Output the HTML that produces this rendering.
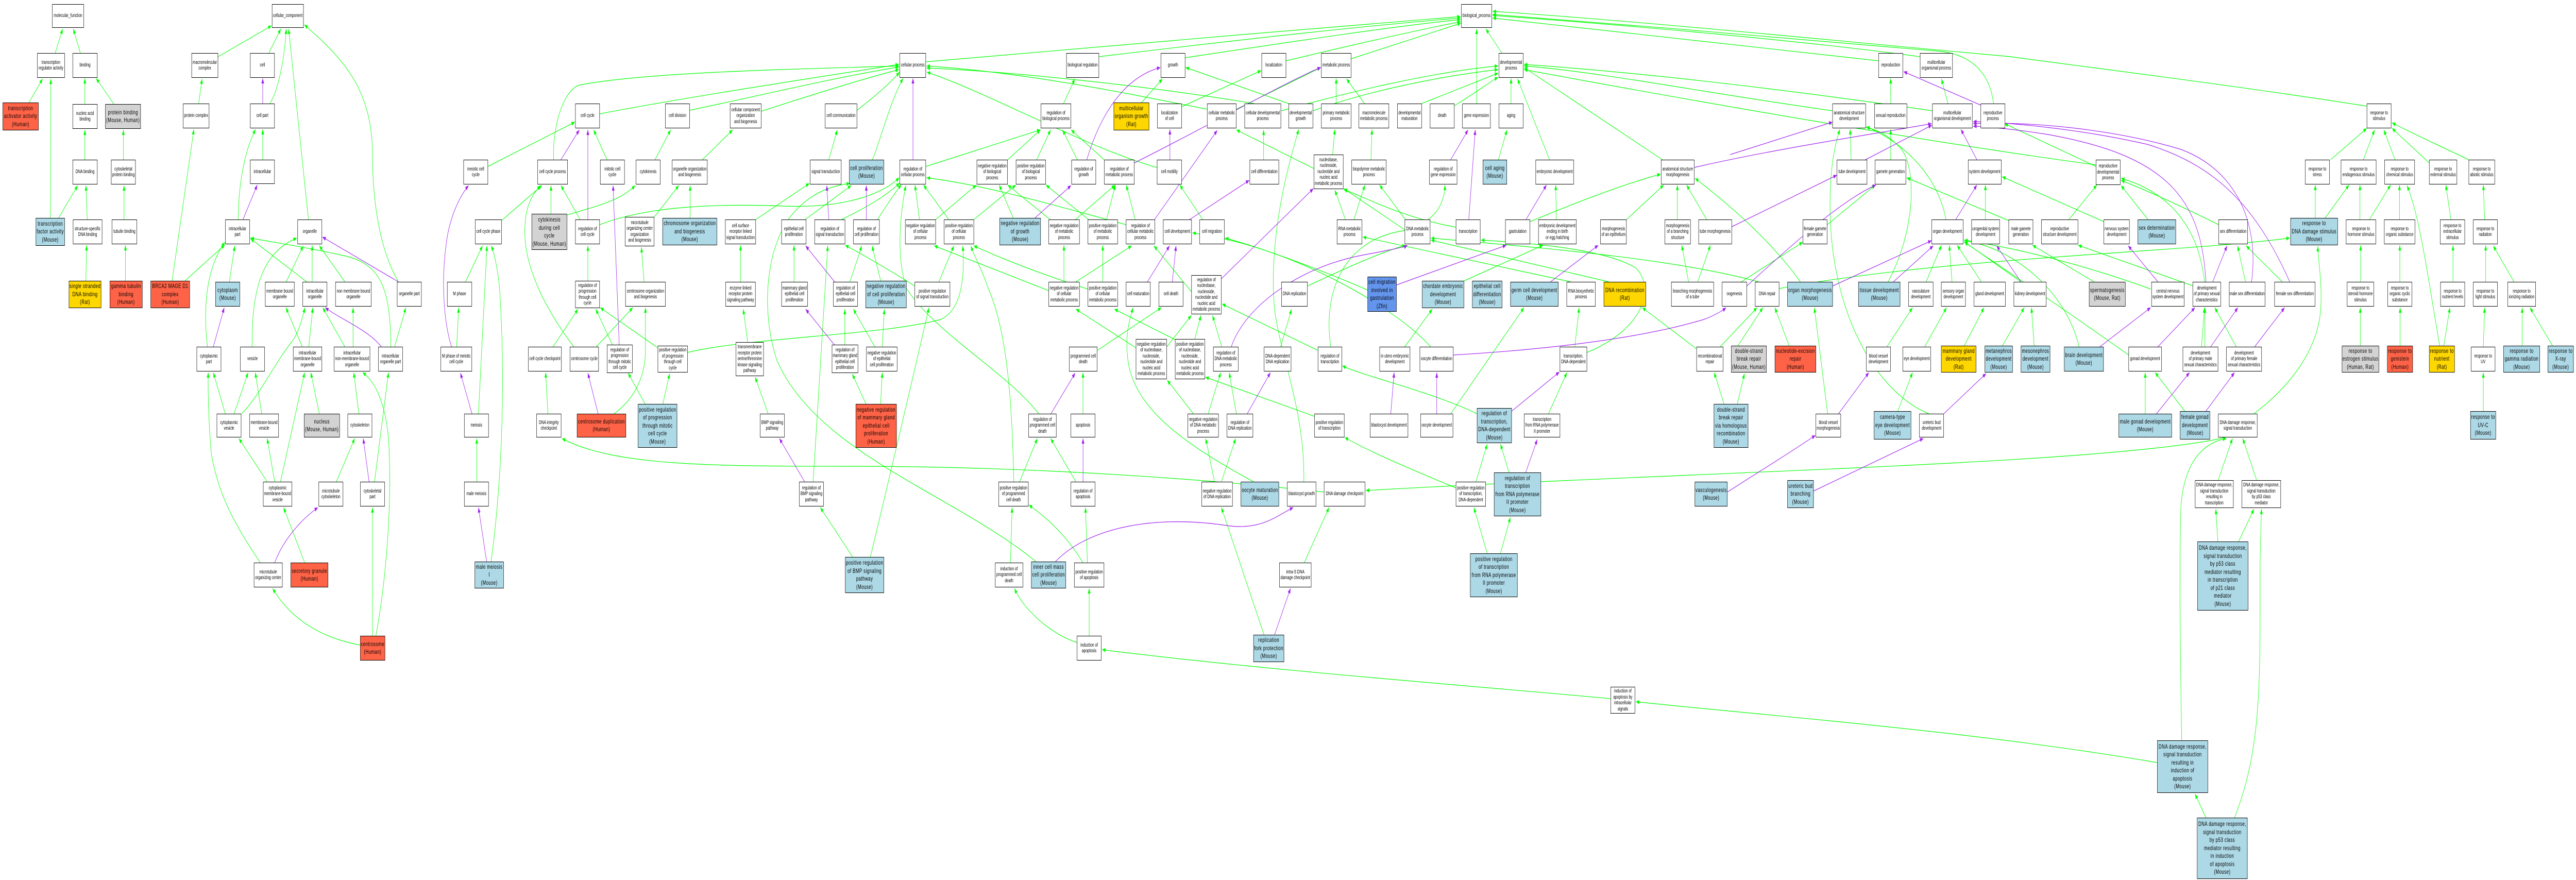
<!DOCTYPE html>
<html><head><meta charset="utf-8"><style>
html,body{margin:0;padding:0;background:#fff;overflow:hidden;width:100%;height:100%}
#root{position:fixed;left:0;top:0;width:100vw;height:100vh;display:block}
#c{position:relative;width:7559px;height:1708px;margin:0;padding:0}
.n{position:absolute;box-sizing:border-box;border:1px solid #000;background:#fff;display:flex;align-items:center;justify-content:center;text-align:center;font-family:"Liberation Sans",Arial,sans-serif;font-size:10px;line-height:11.5px;white-space:nowrap;color:#000}
.b,.r,.y,.g,.f{font-size:12px;line-height:15.5px;letter-spacing:0.65px}
.b{background:#add8e6}.r{background:#ff6347}.y{background:#ffd700}.g{background:#d3d3d3}.f{background:#6495ed}
</style></head><body>
<svg id="root" xmlns="http://www.w3.org/2000/svg" viewBox="0 0 7559 1708" preserveAspectRatio="none">
<rect x="0" y="0" width="7559" height="1708" fill="#fff"/>
<defs>
<marker id="mg" markerUnits="userSpaceOnUse" markerWidth="11" markerHeight="8" refX="10" refY="4" orient="auto" viewBox="0 0 11 8"><path d="M0,0L10,4L0,8z" fill="#00ff00"/></marker>
<marker id="mp" markerUnits="userSpaceOnUse" markerWidth="11" markerHeight="8" refX="10" refY="4" orient="auto" viewBox="0 0 11 8"><path d="M0,0L10,4L0,8z" fill="#a020f0"/></marker>
</defs>
<g fill="none" stroke="#00ff00" stroke-width="1.2" marker-end="url(#mg)">
<path d="M162,103L184,56"/><path d="M236,103L215,56"/><path d="M85,199L125,153"/><path d="M148,423L149,153"/>
<path d="M249,202L249,152"/><path d="M334,202L282,152"/><path d="M249,310L249,252"/><path d="M362,310L362,252"/>
<path d="M172,423L228,360"/><path d="M256,426L252,360"/><path d="M364,426L364,360"/><path d="M252,545L254,476"/><path d="M368,545L368,476"/>
<path d="M640,110L797,50"/><path d="M789,103L824,56"/><path d="M792,201C820,170 835,110 840,56"/><path d="M905,426L847,56"/>
<path d="M1169,547C1110,480 1093,380 1093,300C1093,170 1000,110 893,48"/>
<path d="M583,201L593,153"/><path d="M771,310L771,251"/><path d="M699,426C700,350 720,290 750,251"/>
<path d="M505,545L569,251"/><path d="M543,545L660,475"/><path d="M673,547L689,477"/><path d="M840,547L890,477"/>
<path d="M916,547L916,476"/><path d="M900,547L735,463"/><path d="M1012,547L937,477"/>
<path d="M609,673C595,600 605,520 660,470"/><path d="M740,673C738,560 770,490 871,462"/>
<path d="M887,673L839,597"/><path d="M906,673L918,597"/><path d="M1036,673L1036,597"/><path d="M1012,673L947,597"/><path d="M1158,673L1191,597"/>
<path d="M1147,673C1145,560 1120,510 1000,495C900,480 800,470 735,462"/>
<path d="M661,803L626,723"/><path d="M687,803L728,723"/><path d="M709,803C760,770 800,710 860,660C880,640 890,610 895,597"/>
<path d="M768,803L749,723"/><path d="M937,803L912,723"/><path d="M1053,803L1038,723"/>
<path d="M784,935L701,851"/><path d="M806,935L784,851"/><path d="M823,935L894,723"/><path d="M987,935L1041,851"/><path d="M1099,935L1140,723"/>
<path d="M764,1092C690,1020 640,960 620,880C612,820 610,760 611,723"/><path d="M894,1092L832,985"/>
<path d="M1057,1252C960,1240 860,1210 800,1142"/><path d="M1093,1234L1093,985"/>
<path d="M1103,1234C1140,1100 1150,950 1140,850C1130,780 1100,740 1064,723"/>
<path d="M1432,323L1687,237"/><path d="M1625,310C1620,270 1640,180 1700,165C1900,140 2300,135 2638,128"/>
<path d="M1781,310L1742,252"/><path d="M1922,310L1968,252"/><path d="M2061,310L2150,252"/><path d="M2432,310L2457,252"/>
<path d="M2560,310C2580,280 2610,200 2650,152"/><path d="M1760,221C2000,190 2400,150 2638,125"/>
<path d="M2024,214C2200,190 2450,150 2638,130"/><path d="M2234,216C2400,180 2550,150 2638,135"/><path d="M2515,214C2560,190 2600,170 2640,140"/>
<path d="M1472,428L1590,360"/><path d="M1617,415L1617,360"/><path d="M1665,417C1750,400 1820,390 1864,360"/><path d="M1702,426L1646,360"/>
<path d="M1760,436C1900,400 2100,395 2300,400C2500,405 2600,370 2639,345"/>
<path d="M1914,426L1992,360"/><path d="M2025,423L2025,360"/><path d="M2218,426L2375,356"/><path d="M2363,426L2498,360"/>
<path d="M2470,426C2550,400 2600,380 2640,355"/><path d="M2575,426C2600,400 2620,380 2645,358"/>
<path d="M1366,547L1416,477"/><path d="M1725,545L1725,477"/><path d="M1890,547L1882,480"/><path d="M2173,547L2173,476"/>
<path d="M2330,547L2330,476"/><path d="M2494,547L2529,477"/><path d="M2585,547L2559,477"/>
<path d="M1340,673L1346,597"/><path d="M1623,673L1696,600"/><path d="M1684,673C1600,600 1540,520 1540,450C1540,400 1560,380 1586,360"/>
<path d="M1750,673L1857,597"/><path d="M1797,669L1748,600"/><path d="M1930,675L1761,597"/>
<path d="M2018,684C2200,655 2600,650 2760,620C2830,600 2830,520 2825,477"/>
<path d="M2194,664L2181,600"/><path d="M2479,669L2479,600"/><path d="M2567,673L2504,600"/><path d="M2589,673L2595,600"/>
<path d="M1404,803L1429,477"/><path d="M1608,803L1601,723"/><path d="M1802,803C1850,780 1894,740 1894,680L1894,597"/>
<path d="M1893,784L1843,724"/><path d="M1945,784L1965,725"/><path d="M2254,803L2216,732"/><path d="M2541,784L2501,726"/><path d="M2584,784L2589,723"/>
<path d="M1399,935L1399,851"/><path d="M2386,935L2429,477"/>
<path d="M1441,1090C1480,900 1480,700 1466,560C1460,520 1450,490 1441,477"/>
<path d="M2502,1081L2407,985"/><path d="M2554,1081C2620,900 2690,700 2726,597"/>
<path d="M3040,1090C2800,960 2400,880 2280,700C2230,600 2250,480 2320,420C2380,370 2450,360 2494,356"/>
<path d="M3885,955C3400,920 2900,905 2500,905C2100,905 1800,905 1649,851"/>
<path d="M2717,120C3000,100 3800,60 4286,32"/><path d="M3225,110C3600,80 4000,50 4286,35"/><path d="M3478,112C3800,80 4100,50 4286,38"/>
<path d="M3774,118C3950,90 4150,60 4286,42"/><path d="M3965,114L4287,45"/>
<path d="M3121,201L3154,153"/><path d="M3350,199L3411,153"/><path d="M3468,207L3701,137"/>
<path d="M3542,212C3300,180 3000,140 2719,128"/><path d="M3628,212L3876,131"/><path d="M3781,201L3479,131"/>
<path d="M3760,215C3950,180 4200,140 4396,128"/><path d="M3853,215C4000,180 4200,150 4396,135"/>
<path d="M3680,201C3400,170 3000,140 2719,132"/>
<path d="M2717,323L3053,252"/><path d="M2957,310L3053,252"/><path d="M3042,310L3083,252"/><path d="M3161,310L3118,252"/>
<path d="M3240,310L3143,252"/><path d="M3708,310L3708,252"/><path d="M3855,327L3628,252"/>
<path d="M3395,325C3200,290 2900,180 2720,140"/>
<path d="M2698,426L2685,359"/><path d="M2746,426L2865,359"/><path d="M2784,426L2710,359"/><path d="M2858,426L2981,359"/>
<path d="M2973,423L2932,359"/><path d="M3156,426L3272,359"/><path d="M3081,426L2957,359"/><path d="M3247,426L3273,359"/>
<path d="M3194,426L3069,359"/><path d="M3331,426L3305,359"/><path d="M3304,436C3100,400 2900,360 2719,345"/><path d="M3529,426L3462,359"/>
<path d="M3122,547L3122,476"/><path d="M3077,564L2741,477"/><path d="M3157,547L3321,477"/><path d="M3236,547L3236,476"/>
<path d="M3192,561C3000,520 2900,490 2857,477"/><path d="M3496,566L3386,477"/><path d="M2755,547L2799,477"/>
<path d="M2684,555C2600,520 2520,490 2480,476"/>
<path d="M3220,680L3408,597"/><path d="M3333,675L3157,600"/><path d="M3424,673L3496,612"/><path d="M3448,659L3270,600"/>
<path d="M3506,658L3524,612"/><path d="M3585,673L3558,612"/><path d="M3758,673L3790,600"/>
<path d="M3867,680L3586,590"/><path d="M3905,673C3880,560 3950,470 4100,450C4200,440 4240,400 4240,359"/>
<path d="M3837,555C3950,520 4050,490 4125,476"/>
<path d="M3048,803C2950,720 2750,650 2660,560C2630,500 2640,420 2658,360"/>
<path d="M3178,803L3178,723"/><path d="M3502,803L3425,738"/><path d="M3545,803L3582,723"/><path d="M3628,803L3607,723"/><path d="M3857,808L3537,732"/>
<path d="M2992,935L3044,851"/><path d="M2975,935C2970,800 2960,650 2900,560C2880,520 2860,500 2849,477"/>
<path d="M3157,935L3083,851"/><path d="M3564,935L3538,851"/><path d="M3584,935L3626,851"/>
<path d="M3678,935C3500,870 3330,800 3310,700C3300,650 3315,620 3325,597"/>
<path d="M3826,935C3830,800 3760,700 3740,600C3720,450 3790,300 3811,251"/>
<path d="M2965,1092L2970,985"/><path d="M3191,1092L3185,985"/><path d="M3178,1092C3120,1030 3060,1000 3019,980"/>
<path d="M3827,1092L3900,985"/><path d="M3160,1247C3080,1230 3000,1180 2977,1142"/><path d="M3196,1234L3196,1142"/>
<path d="M4726,1356C4300,1330 3700,1300 3234,1261"/><path d="M3709,1232L3584,985"/>
<path d="M4407,103L4360,56"/><path d="M4333,201L4333,56"/><path d="M3921,201L3921,152"/><path d="M4004,201L3951,153"/>
<path d="M4172,201L4396,142"/><path d="M4268,205C4330,180 4370,160 4396,150"/><path d="M4434,201L4434,152"/>
<path d="M3910,303L3917,251"/><path d="M4023,310L4026,251"/><path d="M4397,310L4422,252"/><path d="M4547,310L4453,153"/><path d="M4878,310L4472,131"/>
<path d="M3948,426L3917,369"/><path d="M3973,426L4005,359"/><path d="M4124,426L4048,359"/><path d="M4122,446L3943,366"/>
<path d="M4272,441C4100,420 4000,380 3943,368"/><path d="M4490,430C4600,400 4750,360 4873,338"/>
<path d="M4567,426L4565,359"/><path d="M4773,426L4882,359"/><path d="M4922,426L4922,359"/><path d="M5008,426L4949,359"/>
<path d="M4013,563C3900,530 3700,480 3595,462"/><path d="M4290,547L4528,476"/><path d="M4609,547L3999,460"/><path d="M4721,547L4199,466"/>
<path d="M4955,547L4935,476"/><path d="M4982,547L5019,476"/><path d="M5110,547L5290,470"/><path d="M5160,547C4900,500 4500,480 4199,462"/>
<path d="M4122,673L4203,600"/><path d="M4621,673L4634,597"/><path d="M4657,684C4820,640 4860,560 4800,520C4700,480 4450,470 4346,466"/>
<path d="M5048,673L5156,597"/><path d="M4978,677L4819,597"/><path d="M5098,673L5173,597"/>
<path d="M4198,673C4100,600 3800,480 3499,452"/>
<path d="M4257,803L4472,597"/><path d="M4334,803C4200,760 4000,730 3939,710"/><path d="M4544,803L4598,723"/>
<path d="M5098,784L5119,725"/><path d="M5059,784L5030,723"/>
<path d="M4331,935L4364,862"/><path d="M4272,947C4100,900 4000,870 3946,849"/><path d="M4428,917L4403,862"/>
<path d="M4364,1074L4325,985"/><path d="M4403,1074L4432,1004"/>
<path d="M5512,118C5100,90 4700,60 4380,35"/><path d="M5634,110C5300,80 4800,50 4380,30"/>
<path d="M5377,215C5000,180 4700,140 4472,128"/><path d="M5548,201L5548,152"/><path d="M5716,201L5697,153"/>
<path d="M5670,215C5200,170 4800,140 4472,125"/><path d="M5850,201C5840,150 5800,110 5700,100C5400,80 4800,50 4380,28"/>
<path d="M5432,310L5429,251"/><path d="M5548,310L5548,251"/><path d="M6150,323L5882,240"/><path d="M6150,320C5700,280 5000,200 4472,135"/>
<path d="M5362,436L5503,359"/><path d="M5710,426C5690,350 5600,280 5476,246"/><path d="M5826,426L5826,359"/>
<path d="M5894,428L5595,345"/><path d="M6071,426L6153,359"/><path d="M6173,430L5875,343"/><path d="M6303,426L6224,360"/>
<path d="M5283,547C5200,470 5080,400 4974,346"/><path d="M5540,547C5620,450 5625,330 5580,290C5540,260 5500,250 5477,248"/>
<path d="M5652,547L5697,476"/><path d="M5728,547L5720,476"/><path d="M5814,547L5743,476"/><path d="M5930,547L5764,469"/>
<path d="M6145,547L5964,476"/><path d="M6311,561C6100,510 5900,480 5764,466"/><path d="M6440,556L6098,476"/>
<path d="M6469,547C6450,430 6350,370 6224,346"/>
<path d="M5250,671L5208,597"/><path d="M5537,673L5612,597"/><path d="M5648,673L5712,597"/><path d="M5764,671L5822,597"/>
<path d="M5876,671L5940,597"/><path d="M5969,671L5961,597"/><path d="M6101,673C6060,560 5900,480 5764,467"/>
<path d="M6246,689C6100,620 5900,530 5764,470"/><path d="M6460,673L6469,597"/>
<path d="M5363,803L5324,597"/><path d="M5569,798L5612,723"/><path d="M5660,803C5500,760 5370,600 5370,400C5370,320 5385,280 5399,251"/>
<path d="M6295,803L6295,723"/><path d="M6411,798L6324,723"/>
<path d="M6402,1437C6396,1200 6396,1050 6400,980C6410,900 6460,860 6533,851"/>
<path d="M6329,1480C5800,1420 5200,1390 4800,1362"/>
<path d="M6530,849C6200,900 5000,915 4008,952"/><path d="M5221,560C5700,500 6400,490 6719,462"/>
<path d="M6509,932L6551,851"/><path d="M6622,932L6581,851"/><path d="M6508,1051L6502,988"/><path d="M6569,1051L6614,988"/>
<path d="M6473,1587L6441,1541"/><path d="M6557,1587C6620,1480 6632,1380 6632,1200L6632,1090L6636,988"/>
<path d="M6614,803C6700,760 6800,690 6810,600C6815,540 6800,500 6802,478"/>
<path d="M6945,206C6500,160 6000,120 5900,110C5400,80 4800,40 4380,22"/>
<path d="M6839,310L6945,249"/><path d="M6935,310L6968,252"/><path d="M7028,310L6995,252"/><path d="M7128,316L7019,249"/>
<path d="M7244,310C7150,280 7050,250 7019,238"/><path d="M6510,436C6400,400 6300,370 6224,350"/>
<path d="M6794,423L6794,359"/><path d="M6823,423L6893,359"/><path d="M6925,426L6925,359"/><path d="M6953,426L7015,359"/>
<path d="M7041,426L7041,359"/><path d="M7192,426L7177,359"/><path d="M7291,426L7287,359"/>
<path d="M6589,547L6566,477"/><path d="M6697,547L6591,477"/><path d="M6927,547L6927,476"/><path d="M7042,547L7042,476"/>
<path d="M7198,547L7198,476"/><path d="M7294,547L7294,476"/><path d="M7377,547L7316,477"/>
<path d="M6470,673L6470,597"/><path d="M6562,673L6499,597"/><path d="M6926,671L6926,597"/><path d="M7043,671L7043,597"/>
<path d="M7171,671L7189,597"/><path d="M7159,671C7120,520 7100,420 7063,360"/><path d="M7287,673L7291,597"/>
<path d="M7401,671L7401,597"/><path d="M7490,671L7424,597"/><path d="M7287,798L7287,723"/>
</g>
<g fill="none" stroke="#a020f0" stroke-width="1.2" marker-end="url(#mp)">
<path d="M771,201L771,152"/><path d="M713,426L755,359"/><path d="M1169,547L946,460"/><path d="M626,673L658,597"/>
<path d="M1119,673C1080,640 1000,620 954,597"/><path d="M1083,935L1066,851"/><path d="M806,1092C830,1050 880,1010 933,985"/>
<path d="M1646,310L1700,252"/><path d="M1725,426L1725,252"/><path d="M1325,673C1300,620 1295,540 1310,470C1320,420 1350,380 1375,360"/>
<path d="M2432,426L2426,360"/><path d="M2542,426L2542,360"/><path d="M2449,547L2364,477"/><path d="M1817,669L1799,360"/>
<path d="M2448,669L2364,600"/><path d="M1385,803L1351,724"/><path d="M1755,803L1725,724"/><path d="M2361,935L2287,851"/><path d="M1428,1090L1404,985"/>
<path d="M2679,310L2679,152"/><path d="M3189,310C3230,220 3300,150 3405,131"/><path d="M3329,316C3500,260 3800,150 3876,131"/>
<path d="M3433,310L3433,251"/><path d="M3037,423L3143,360"/><path d="M3388,426L3572,253"/><path d="M3491,426L3666,350"/>
<path d="M3367,547L3432,477"/><path d="M3440,547L3451,477"/><path d="M3584,541L3854,366"/>
<path d="M3613,673C3650,600 3800,520 4000,495C4080,485 4120,480 4130,476"/>
<path d="M3084,803L3155,724"/><path d="M3178,935L3178,851"/><path d="M3660,803L3728,723"/><path d="M3740,1232L3787,1142"/>
<path d="M3097,1090C3200,1020 3400,1000 3600,1020C3700,1030 3750,1000 3795,985"/>
<path d="M4257,310L4308,252"/><path d="M4310,426L4329,252"/><path d="M4478,426L4538,359"/><path d="M4098,553L4420,476"/>
<path d="M4081,803L4091,723"/><path d="M4216,803L4216,723"/><path d="M4436,798L4576,722"/><path d="M4477,917L4511,853"/>
<path d="M4265,689C4500,680 4800,660 5000,620C5040,610 5060,600 5065,597"/><path d="M4550,547L4690,476"/>
<path d="M5069,955C5150,920 5250,880 5327,845"/>
<path d="M5812,204L5586,139"/><path d="M5474,310L5669,243"/><path d="M5801,310L5754,251"/><path d="M5739,426L5801,359"/>
<path d="M5378,555L5668,467"/><path d="M5556,547L5673,477"/><path d="M5930,547L5859,477"/><path d="M6332,547L6245,477"/>
<path d="M6162,673L6311,597"/><path d="M6332,673L6441,597"/><path d="M5395,803L5484,723"/><path d="M5704,803L5828,725"/>
<path d="M6328,803L6425,723"/><path d="M6473,798L6557,723"/><path d="M5322,953L5644,851"/>
<path d="M6473,547C6460,380 6350,300 6000,260C5900,250 5820,245 5790,245"/>
<path d="M6607,547C6630,430 6560,330 6400,290C6200,250 5950,235 5790,240"/>
<path d="M6719,547C6620,400 6500,320 6300,280C6100,250 5900,238 5790,236"/>
<path d="M5082,440L5390,340"/><path d="M5126,555C5250,480 5400,390 5505,359"/>
<path d="M4972,325C5200,290 5500,260 5668,240"/><path d="M5077,300L5377,237"/>
<path d="M6493,547L6535,477"/><path d="M6487,673L6567,597"/><path d="M6616,673L6704,597"/>
</g>
<foreignObject x="0" y="0" width="7559" height="1708">
<div xmlns="http://www.w3.org/1999/xhtml" id="c">
<div class="n" style="left:153px;top:8px;width:93px;height:46px">molecular_function</div>
<div class="n" style="left:109px;top:103px;width:81px;height:48px">transcription<br/>regulator activity</div>
<div class="n" style="left:213px;top:103px;width:73px;height:48px">binding</div>
<div class="n r" style="left:8px;top:199px;width:105px;height:54px">transcription<br/>activator activity<br/>(Human)</div>
<div class="n" style="left:213px;top:202px;width:73px;height:48px">nucleic acid<br/>binding</div>
<div class="n g" style="left:309px;top:202px;width:104px;height:48px">protein binding<br/>(Mouse, Human)</div>
<div class="n" style="left:213px;top:310px;width:73px;height:48px">DNA binding</div>
<div class="n" style="left:326px;top:310px;width:72px;height:48px">cytoskeletal<br/>protein binding</div>
<div class="n b" style="left:105px;top:423px;width:85px;height:54px">transcription<br/>factor activity<br/>(Mouse)</div>
<div class="n" style="left:214px;top:426px;width:86px;height:48px">structure-specific<br/>DNA binding</div>
<div class="n" style="left:328px;top:426px;width:74px;height:48px">tubulin binding</div>
<div class="n y" style="left:202px;top:545px;width:95px;height:53px">single stranded<br/>DNA binding<br/>(Rat)</div>
<div class="n r" style="left:322px;top:545px;width:96px;height:53px">gamma tubulin<br/>binding<br/>(Human)</div>
<div class="n" style="left:798px;top:8px;width:93px;height:46px">cellular_component</div>
<div class="n" style="left:562px;top:103px;width:78px;height:48px">macromolecular<br/>complex</div>
<div class="n" style="left:734px;top:103px;width:72px;height:48px">cell</div>
<div class="n" style="left:537px;top:201px;width:77px;height:48px">protein complex</div>
<div class="n" style="left:734px;top:201px;width:72px;height:48px">cell part</div>
<div class="n" style="left:734px;top:310px;width:72px;height:47px">intracellular</div>
<div class="n" style="left:661px;top:426px;width:72px;height:48px">intracellular<br/>part</div>
<div class="n" style="left:873px;top:426px;width:72px;height:48px">organelle</div>
<div class="n r" style="left:442px;top:545px;width:115px;height:53px">BRCA2 MAGE D1<br/>complex<br/>(Human)</div>
<div class="n b" style="left:632px;top:547px;width:72px;height:48px">cytoplasm<br/>(Mouse)</div>
<div class="n" style="left:778px;top:547px;width:86px;height:48px">membrane bound<br/>organelle</div>
<div class="n" style="left:888px;top:547px;width:72px;height:48px">intracellular<br/>organelle</div>
<div class="n" style="left:984px;top:547px;width:106px;height:48px">non membrane bound<br/>organelle</div>
<div class="n" style="left:1165px;top:547px;width:72px;height:48px">organelle part</div>
<div class="n" style="left:577px;top:673px;width:72px;height:48px">cytoplasmic<br/>part</div>
<div class="n" style="left:705px;top:673px;width:72px;height:48px">vesicle</div>
<div class="n" style="left:860px;top:673px;width:85px;height:48px">intracellular<br/>membrane-bound<br/>organelle</div>
<div class="n" style="left:980px;top:673px;width:106px;height:48px">intracellular<br/>non-membrane-bound<br/>organelle</div>
<div class="n" style="left:1110px;top:673px;width:72px;height:48px">intracellular<br/>organelle part</div>
<div class="n" style="left:636px;top:803px;width:72px;height:46px">cytoplasmic<br/>vesicle</div>
<div class="n" style="left:732px;top:803px;width:86px;height:46px">membrane-bound<br/>vesicle</div>
<div class="n g" style="left:892px;top:803px;width:105px;height:46px">nucleus<br/>(Mouse, Human)</div>
<div class="n" style="left:1020px;top:803px;width:72px;height:46px">cytoskeleton</div>
<div class="n" style="left:772px;top:935px;width:85px;height:48px">cytoplasmic<br/>membrane-bound<br/>vesicle</div>
<div class="n" style="left:935px;top:935px;width:72px;height:48px">microtubule<br/>cytoskeleton</div>
<div class="n" style="left:1057px;top:935px;width:72px;height:48px">cytoskeletal<br/>part</div>
<div class="n" style="left:745px;top:1092px;width:84px;height:48px">microtubule<br/>organizing center</div>
<div class="n r" style="left:853px;top:1092px;width:110px;height:48px">secretory granule<br/>(Human)</div>
<div class="n r" style="left:1057px;top:1234px;width:73px;height:48px">centrosome<br/>(Human)</div>
<div class="n" style="left:1688px;top:201px;width:72px;height:48px">cell cycle</div>
<div class="n" style="left:1952px;top:201px;width:72px;height:48px">cell division</div>
<div class="n" style="left:2142px;top:201px;width:92px;height:48px">cellular component<br/>organization<br/>and biogenesis</div>
<div class="n" style="left:2421px;top:201px;width:94px;height:48px">cell communication</div>
<div class="n" style="left:1360px;top:310px;width:72px;height:48px">meiotic cell<br/>cycle</div>
<div class="n" style="left:1577px;top:310px;width:89px;height:48px">cell cycle process</div>
<div class="n" style="left:1761px;top:310px;width:72px;height:48px">mitotic cell<br/>cycle</div>
<div class="n" style="left:1866px;top:310px;width:72px;height:48px">cytokinesis</div>
<div class="n" style="left:1972px;top:310px;width:104px;height:48px">organelle organization<br/>and biogenesis</div>
<div class="n" style="left:2377px;top:310px;width:92px;height:48px">signal transduction</div>
<div class="n b" style="left:2492px;top:310px;width:102px;height:48px">cell proliferation<br/>(Mouse)</div>
<div class="n" style="left:1394px;top:426px;width:78px;height:48px">cell cycle phase</div>
<div class="n g" style="left:1560px;top:415px;width:104px;height:70px">cytokinesis<br/>during cell<br/>cycle<br/>(Mouse, Human)</div>
<div class="n" style="left:1688px;top:426px;width:72px;height:48px">regulation of<br/>cell cycle</div>
<div class="n" style="left:1834px;top:421px;width:86px;height:57px">microtubule<br/>organizing center<br/>organization<br/>and biogenesis</div>
<div class="n b" style="left:1944px;top:423px;width:160px;height:53px">chromosome organization<br/>and biogenesis<br/>(Mouse)</div>
<div class="n" style="left:2128px;top:426px;width:90px;height:48px">cell surface<br/>receptor linked<br/>signal transduction</div>
<div class="n" style="left:2293px;top:426px;width:73px;height:48px">epithelial cell<br/>proliferation</div>
<div class="n" style="left:2390px;top:426px;width:90px;height:48px">regulation of<br/>signal transduction</div>
<div class="n" style="left:2504px;top:426px;width:77px;height:48px">regulation of<br/>cell proliferation</div>
<div class="n" style="left:1312px;top:547px;width:73px;height:48px">M phase</div>
<div class="n" style="left:1688px;top:545px;width:72px;height:53px">regulation of<br/>progression<br/>through cell<br/>cycle</div>
<div class="n" style="left:1835px;top:547px;width:118px;height:48px">centrosome organization<br/>and biogenesis</div>
<div class="n" style="left:2129px;top:547px;width:88px;height:48px">enzyme linked<br/>receptor protein<br/>signaling pathway</div>
<div class="n" style="left:2293px;top:547px;width:77px;height:48px">mammary gland<br/>epithelial cell<br/>proliferation</div>
<div class="n" style="left:2445px;top:547px;width:72px;height:48px">regulation of<br/>epithelial cell<br/>proliferation</div>
<div class="n b" style="left:2540px;top:545px;width:120px;height:53px">negative regulation<br/>of cell proliferation<br/>(Mouse)</div>
<div class="n" style="left:1293px;top:673px;width:92px;height:48px">M phase of meiotic<br/>cell cycle</div>
<div class="n" style="left:1550px;top:673px;width:98px;height:48px">cell cycle checkpoint</div>
<div class="n" style="left:1672px;top:673px;width:85px;height:48px">centrosome cycle</div>
<div class="n" style="left:1781px;top:669px;width:75px;height:55px">regulation of<br/>progression<br/>through mitotic<br/>cell cycle</div>
<div class="n" style="left:1930px;top:671px;width:88px;height:52px">positive regulation<br/>of progression<br/>through cell<br/>cycle</div>
<div class="n" style="left:2159px;top:664px;width:82px;height:66px">transmembrane<br/>receptor protein<br/>serine/threonine<br/>kinase signaling<br/>pathway</div>
<div class="n" style="left:2441px;top:669px;width:77px;height:55px">regulation of<br/>mammary gland<br/>epithelial cell<br/>proliferation</div>
<div class="n" style="left:2542px;top:673px;width:91px;height:48px">negative regulation<br/>of epithelial<br/>cell proliferation</div>
<div class="n" style="left:1362px;top:803px;width:72px;height:46px">meiosis</div>
<div class="n" style="left:1574px;top:803px;width:73px;height:46px">DNA integrity<br/>checkpoint</div>
<div class="n r" style="left:1693px;top:803px;width:144px;height:46px">centrosome duplication<br/>(Human)</div>
<div class="n b" style="left:1872px;top:784px;width:115px;height:85px">positive regulation<br/>of progression<br/>through mitotic<br/>cell cycle<br/>(Mouse)</div>
<div class="n" style="left:2230px;top:803px;width:72px;height:46px">BMP signaling<br/>pathway</div>
<div class="n r" style="left:2511px;top:784px;width:120px;height:85px">negative regulation<br/>of mammary gland<br/>epithelial cell<br/>proliferation<br/>(Human)</div>
<div class="n" style="left:1362px;top:935px;width:72px;height:48px">male meiosis</div>
<div class="n" style="left:2345px;top:935px;width:72px;height:48px">regulation of<br/>BMP signaling<br/>pathway</div>
<div class="n b" style="left:1393px;top:1090px;width:85px;height:52px">male meiosis<br/>I<br/>(Mouse)</div>
<div class="n b" style="left:2480px;top:1081px;width:114px;height:70px">positive regulation<br/>of BMP signaling<br/>pathway<br/>(Mouse)</div>
<div class="n" style="left:2640px;top:103px;width:77px;height:48px">cellular process</div>
<div class="n" style="left:3129px;top:103px;width:96px;height:48px">biological regulation</div>
<div class="n" style="left:3406px;top:103px;width:72px;height:48px">growth</div>
<div class="n" style="left:3702px;top:103px;width:72px;height:48px">localization</div>
<div class="n" style="left:3877px;top:103px;width:88px;height:48px">metabolic process</div>
<div class="n" style="left:3054px;top:201px;width:89px;height:48px">regulation of<br/>biological process</div>
<div class="n y" style="left:3268px;top:199px;width:104px;height:54px">multicellular<br/>organism growth<br/>(Rat)</div>
<div class="n" style="left:3396px;top:201px;width:72px;height:48px">localization<br/>of cell</div>
<div class="n" style="left:3542px;top:201px;width:86px;height:48px">cellular metabolic<br/>process</div>
<div class="n" style="left:3652px;top:201px;width:107px;height:48px">cellular developmental<br/>process</div>
<div class="n" style="left:3781px;top:201px;width:72px;height:48px">developmental<br/>growth</div>
<div class="n" style="left:3877px;top:201px;width:88px;height:48px">primary metabolic<br/>process</div>
<div class="n" style="left:2640px;top:310px;width:77px;height:48px">regulation of<br/>cellular process</div>
<div class="n" style="left:2866px;top:310px;width:91px;height:48px">negative regulation<br/>of biological<br/>process</div>
<div class="n" style="left:2981px;top:310px;width:88px;height:48px">positive regulation<br/>of biological<br/>process</div>
<div class="n" style="left:3144px;top:310px;width:72px;height:48px">regulation of<br/>growth</div>
<div class="n" style="left:3240px;top:310px;width:89px;height:48px">regulation of<br/>metabolic process</div>
<div class="n" style="left:3395px;top:310px;width:73px;height:48px">cell motility</div>
<div class="n" style="left:3667px;top:310px;width:86px;height:48px">cell differentiation</div>
<div class="n" style="left:3855px;top:300px;width:87px;height:67px">nucleobase,<br/>nucleoside,<br/>nucleotide and<br/>nucleic acid<br/>metabolic process</div>
<div class="n" style="left:2656px;top:426px;width:90px;height:48px">negative regulation<br/>of cellular<br/>process</div>
<div class="n" style="left:2770px;top:426px;width:88px;height:48px">positive regulation<br/>of cellular<br/>process</div>
<div class="n b" style="left:2933px;top:423px;width:121px;height:53px">negative regulation<br/>of growth<br/>(Mouse)</div>
<div class="n" style="left:3077px;top:426px;width:91px;height:48px">negative regulation<br/>of metabolic<br/>process</div>
<div class="n" style="left:3192px;top:426px;width:88px;height:48px">positive regulation<br/>of metabolic<br/>process</div>
<div class="n" style="left:3304px;top:426px;width:85px;height:48px">regulation of<br/>cellular metabolic<br/>process</div>
<div class="n" style="left:3413px;top:426px;width:84px;height:48px">cell development</div>
<div class="n" style="left:3520px;top:426px;width:73px;height:48px">cell migration</div>
<div class="n" style="left:2684px;top:547px;width:104px;height:48px">positive regulation<br/>of signal transduction</div>
<div class="n" style="left:3077px;top:547px;width:91px;height:48px">negative regulation<br/>of cellular<br/>metabolic process</div>
<div class="n" style="left:3192px;top:547px;width:88px;height:48px">positive regulation<br/>of cellular<br/>metabolic process</div>
<div class="n" style="left:3304px;top:547px;width:72px;height:48px">cell maturation</div>
<div class="n" style="left:3400px;top:547px;width:72px;height:48px">cell death</div>
<div class="n" style="left:3496px;top:534px;width:88px;height:76px">regulation of<br/>nucleobase,<br/>nucleoside,<br/>nucleotide and<br/>nucleic acid<br/>metabolic process</div>
<div class="n" style="left:3760px;top:547px;width:77px;height:48px">DNA replication</div>
<div class="n" style="left:3137px;top:673px;width:83px;height:48px">programmed cell<br/>death</div>
<div class="n" style="left:3333px;top:658px;width:91px;height:78px">negative regulation<br/>of nucleobase,<br/>nucleoside,<br/>nucleotide and<br/>nucleic acid<br/>metabolic process</div>
<div class="n" style="left:3448px;top:658px;width:88px;height:78px">positive regulation<br/>of nucleobase,<br/>nucleoside,<br/>nucleotide and<br/>nucleic acid<br/>metabolic process</div>
<div class="n" style="left:3560px;top:673px;width:74px;height:48px">regulation of<br/>DNA metabolic<br/>process</div>
<div class="n" style="left:3709px;top:673px;width:80px;height:48px">DNA-dependent<br/>DNA replication</div>
<div class="n" style="left:3867px;top:673px;width:71px;height:48px">regulation of<br/>transcription</div>
<div class="n" style="left:3018px;top:803px;width:82px;height:46px">regulation of<br/>programmed cell<br/>death</div>
<div class="n" style="left:3142px;top:803px;width:72px;height:46px">apoptosis</div>
<div class="n" style="left:3485px;top:803px;width:91px;height:46px">negative regulation<br/>of DNA metabolic<br/>process</div>
<div class="n" style="left:3600px;top:803px;width:77px;height:46px">regulation of<br/>DNA replication</div>
<div class="n" style="left:3857px;top:803px;width:88px;height:46px">positive regulation<br/>of transcription</div>
<div class="n" style="left:2930px;top:935px;width:88px;height:48px">positive regulation<br/>of programmed<br/>cell death</div>
<div class="n" style="left:3142px;top:935px;width:72px;height:48px">regulation of<br/>apoptosis</div>
<div class="n" style="left:3526px;top:935px;width:91px;height:48px">negative regulation<br/>of DNA replication</div>
<div class="n b" style="left:3641px;top:935px;width:112px;height:48px">oocyte maturation<br/>(Mouse)</div>
<div class="n" style="left:3777px;top:935px;width:85px;height:48px">blastocyst growth</div>
<div class="n" style="left:3885px;top:935px;width:121px;height:48px">DNA damage checkpoint</div>
<div class="n" style="left:2920px;top:1092px;width:82px;height:48px">induction of<br/>programmed cell<br/>death</div>
<div class="n b" style="left:3026px;top:1090px;width:102px;height:52px">inner cell mass<br/>cell proliferation<br/>(Mouse)</div>
<div class="n" style="left:3152px;top:1092px;width:88px;height:48px">positive regulation<br/>of apoptosis</div>
<div class="n" style="left:3754px;top:1092px;width:94px;height:48px">intra-S DNA<br/>damage checkpoint</div>
<div class="n" style="left:3160px;top:1234px;width:72px;height:48px">induction of<br/>apoptosis</div>
<div class="n b" style="left:3678px;top:1232px;width:90px;height:53px">replication<br/>fork protection<br/>(Mouse)</div>
<div class="n" style="left:4288px;top:8px;width:90px;height:46px">biological_process</div>
<div class="n" style="left:4398px;top:103px;width:72px;height:48px">developmental<br/>process</div>
<div class="n" style="left:3987px;top:201px;width:89px;height:48px">macromolecule<br/>metabolic process</div>
<div class="n" style="left:4100px;top:201px;width:72px;height:48px">developmental<br/>maturation</div>
<div class="n" style="left:4196px;top:201px;width:72px;height:48px">death</div>
<div class="n" style="left:4291px;top:201px;width:83px;height:48px">gene expression</div>
<div class="n" style="left:4398px;top:201px;width:72px;height:48px">aging</div>
<div class="n" style="left:3966px;top:310px;width:102px;height:48px">biopolymer metabolic<br/>process</div>
<div class="n" style="left:4194px;top:310px;width:82px;height:48px">regulation of<br/>gene expression</div>
<div class="n b" style="left:4351px;top:310px;width:71px;height:48px">cell aging<br/>(Mouse)</div>
<div class="n" style="left:4506px;top:310px;width:112px;height:48px">embryonic development</div>
<div class="n" style="left:4874px;top:310px;width:98px;height:48px">anatomical structure<br/>morphogenesis</div>
<div class="n" style="left:3923px;top:426px;width:74px;height:48px">RNA metabolic<br/>process</div>
<div class="n" style="left:4122px;top:426px;width:75px;height:48px">DNA metabolic<br/>process</div>
<div class="n" style="left:4272px;top:426px;width:72px;height:48px">transcription</div>
<div class="n" style="left:4417px;top:426px;width:73px;height:48px">gastrulation</div>
<div class="n" style="left:4514px;top:426px;width:112px;height:48px">embryonic development<br/>ending in birth<br/>or egg hatching</div>
<div class="n" style="left:4696px;top:426px;width:77px;height:48px">morphogenesis<br/>of an epithelium</div>
<div class="n" style="left:4885px;top:426px;width:76px;height:48px">morphogenesis<br/>of a branching<br/>structure</div>
<div class="n" style="left:4984px;top:426px;width:98px;height:48px">tube morphogenesis</div>
<div class="n f" style="left:4013px;top:537px;width:85px;height:68px">cell migration<br/>involved in<br/>gastrulation<br/>(Zfin)</div>
<div class="n b" style="left:4173px;top:545px;width:123px;height:53px">chordate embryonic<br/>development<br/>(Mouse)</div>
<div class="n b" style="left:4320px;top:545px;width:88px;height:53px">epithelial cell<br/>differentiation<br/>(Mouse)</div>
<div class="n b" style="left:4432px;top:547px;width:141px;height:48px">germ cell development<br/>(Mouse)</div>
<div class="n" style="left:4597px;top:547px;width:85px;height:48px">RNA biosynthetic<br/>process</div>
<div class="n y" style="left:4706px;top:547px;width:124px;height:48px">DNA recombination<br/>(Rat)</div>
<div class="n" style="left:4904px;top:547px;width:125px;height:48px">branching morphogenesis<br/>of a tube</div>
<div class="n" style="left:5053px;top:547px;width:73px;height:48px">oogenesis</div>
<div class="n" style="left:5150px;top:547px;width:71px;height:48px">DNA repair</div>
<div class="n" style="left:4048px;top:673px;width:90px;height:48px">in utero embryonic<br/>development</div>
<div class="n" style="left:4166px;top:673px;width:99px;height:48px">oocyte differentiation</div>
<div class="n" style="left:4577px;top:673px;width:80px;height:48px">transcription,<br/>DNA-dependent</div>
<div class="n" style="left:4978px;top:673px;width:79px;height:48px">recombinational<br/>repair</div>
<div class="n g" style="left:5080px;top:671px;width:104px;height:52px">double-strand<br/>break repair<br/>(Mouse, Human)</div>
<div class="n" style="left:4020px;top:803px;width:112px;height:46px">blastocyst development</div>
<div class="n" style="left:4168px;top:803px;width:96px;height:46px">oocyte development</div>
<div class="n b" style="left:4334px;top:792px;width:102px;height:68px">regulation of<br/>transcription,<br/>DNA-dependent<br/>(Mouse)</div>
<div class="n" style="left:4472px;top:803px;width:106px;height:46px">transcription<br/>from RNA polymerase<br/>II promoter</div>
<div class="n b" style="left:5029px;top:784px;width:101px;height:85px">double-strand<br/>break repair<br/>via homologous<br/>recombination<br/>(Mouse)</div>
<div class="n" style="left:4272px;top:935px;width:88px;height:48px">positive regulation<br/>of transcription,<br/>DNA-dependent</div>
<div class="n b" style="left:4384px;top:917px;width:138px;height:85px">regulation of<br/>transcription<br/>from RNA polymerase<br/>II promoter<br/>(Mouse)</div>
<div class="n b" style="left:4973px;top:935px;width:96px;height:48px">vasculogenesis<br/>(Mouse)</div>
<div class="n b" style="left:4314px;top:1074px;width:139px;height:85px">positive regulation<br/>of transcription<br/>from RNA polymerase<br/>II promoter<br/>(Mouse)</div>
<div class="n" style="left:4726px;top:1333px;width:72px;height:52px">induction of<br/>apoptosis by<br/>intracellular<br/>signals</div>
<div class="n" style="left:5512px;top:103px;width:72px;height:48px">reproduction</div>
<div class="n" style="left:5634px;top:103px;width:96px;height:48px">multicellular<br/>organismal process</div>
<div class="n" style="left:5377px;top:201px;width:98px;height:48px">anatomical structure<br/>development</div>
<div class="n" style="left:5500px;top:201px;width:96px;height:48px">sexual reproduction</div>
<div class="n" style="left:5670px;top:201px;width:118px;height:48px">multicellular<br/>organismal development</div>
<div class="n" style="left:5812px;top:201px;width:72px;height:48px">reproductive<br/>process</div>
<div class="n" style="left:5390px;top:310px;width:89px;height:48px">tube development</div>
<div class="n" style="left:5502px;top:310px;width:91px;height:48px">gamete generation</div>
<div class="n" style="left:5775px;top:310px;width:98px;height:48px">system development</div>
<div class="n" style="left:6150px;top:310px;width:72px;height:49px">reproductive<br/>developmental<br/>process</div>
<div class="n" style="left:5290px;top:426px;width:72px;height:48px">female gamete<br/>generation</div>
<div class="n" style="left:5668px;top:426px;width:93px;height:48px">organ development</div>
<div class="n" style="left:5785px;top:426px;width:83px;height:48px">urogenital system<br/>development</div>
<div class="n" style="left:5894px;top:426px;width:72px;height:48px">male gamete<br/>generation</div>
<div class="n" style="left:5990px;top:426px;width:108px;height:48px">reproductive<br/>structure development</div>
<div class="n" style="left:6173px;top:426px;width:76px;height:48px">nervous system<br/>development</div>
<div class="n b" style="left:6273px;top:426px;width:112px;height:48px">sex determination<br/>(Mouse)</div>
<div class="n b" style="left:5245px;top:547px;width:133px;height:48px">organ morphogenesis<br/>(Mouse)</div>
<div class="n b" style="left:5453px;top:547px;width:123px;height:48px">tissue development<br/>(Mouse)</div>
<div class="n" style="left:5600px;top:547px;width:73px;height:48px">vasculature<br/>development</div>
<div class="n" style="left:5696px;top:547px;width:72px;height:48px">sensory organ<br/>development</div>
<div class="n" style="left:5792px;top:547px;width:93px;height:48px">gland development</div>
<div class="n" style="left:5909px;top:547px;width:96px;height:48px">kidney development</div>
<div class="n g" style="left:6130px;top:547px;width:107px;height:48px">spermatogenesis<br/>(Mouse, Rat)</div>
<div class="n" style="left:6313px;top:547px;width:97px;height:48px">central nervous<br/>system development</div>
<div class="n" style="left:6434px;top:547px;width:83px;height:48px">development<br/>of primary sexual<br/>characteristics</div>
<div class="n r" style="left:5208px;top:671px;width:121px;height:52px">nucleotide-excision<br/>repair<br/>(Human)</div>
<div class="n" style="left:5476px;top:673px;width:72px;height:48px">blood vessel<br/>development</div>
<div class="n" style="left:5583px;top:673px;width:83px;height:48px">eye development</div>
<div class="n y" style="left:5696px;top:671px;width:103px;height:52px">mammary gland<br/>development<br/>(Rat)</div>
<div class="n b" style="left:5824px;top:671px;width:82px;height:52px">metanephros<br/>development<br/>(Mouse)</div>
<div class="n b" style="left:5930px;top:671px;width:86px;height:52px">mesonephros<br/>development<br/>(Mouse)</div>
<div class="n b" style="left:6057px;top:673px;width:116px;height:48px">brain development<br/>(Mouse)</div>
<div class="n" style="left:6246px;top:673px;width:97px;height:48px">gonad development</div>
<div class="n" style="left:6405px;top:673px;width:104px;height:48px">development<br/>of primary male<br/>sexual characteristics</div>
<div class="n" style="left:6533px;top:673px;width:104px;height:48px">development<br/>of primary female<br/>sexual characteristics</div>
<div class="n" style="left:5328px;top:803px;width:74px;height:46px">blood vessel<br/>morphogenesis</div>
<div class="n b" style="left:5499px;top:798px;width:109px;height:55px">camera-type<br/>eye development<br/>(Mouse)</div>
<div class="n" style="left:5632px;top:803px;width:72px;height:46px">ureteric bud<br/>development</div>
<div class="n b" style="left:6217px;top:803px;width:156px;height:46px">male gonad development<br/>(Mouse)</div>
<div class="n b" style="left:6397px;top:798px;width:88px;height:55px">female gonad<br/>development<br/>(Mouse)</div>
<div class="n b" style="left:5245px;top:932px;width:77px;height:54px">ureteric bud<br/>branching<br/>(Mouse)</div>
<div class="n" style="left:6509px;top:803px;width:115px;height:46px">DNA damage response,<br/>signal transduction</div>
<div class="n" style="left:6441px;top:932px;width:113px;height:54px">DNA damage response,<br/>signal transduction<br/>resulting in<br/>transcription</div>
<div class="n" style="left:6578px;top:932px;width:115px;height:54px">DNA damage response,<br/>signal transduction<br/>by p53 class<br/>mediator</div>
<div class="n b" style="left:6448px;top:1051px;width:149px;height:134px">DNA damage response,<br/>signal transduction<br/>by p53 class<br/>mediator resulting<br/>in transcription<br/>of p21 class<br/>mediator<br/>(Mouse)</div>
<div class="n b" style="left:6330px;top:1437px;width:149px;height:102px">DNA damage response,<br/>signal transduction<br/>resulting in<br/>induction of<br/>apoptosis<br/>(Mouse)</div>
<div class="n b" style="left:6447px;top:1587px;width:148px;height:119px">DNA damage response,<br/>signal transduction<br/>by p53 class<br/>mediator resulting<br/>in induction<br/>of apoptosis<br/>(Mouse)</div>
<div class="n" style="left:6945px;top:201px;width:72px;height:48px">response to<br/>stimulus</div>
<div class="n" style="left:6764px;top:310px;width:72px;height:48px">response to<br/>stress</div>
<div class="n" style="left:6869px;top:310px;width:104px;height:48px">response to<br/>endogenous stimulus</div>
<div class="n" style="left:6997px;top:310px;width:89px;height:48px">response to<br/>chemical stimulus</div>
<div class="n" style="left:7128px;top:310px;width:82px;height:48px">response to<br/>external stimulus</div>
<div class="n" style="left:7244px;top:310px;width:77px;height:48px">response to<br/>abiotic stimulus</div>
<div class="n" style="left:6510px;top:426px;width:86px;height:48px">sex differentiation</div>
<div class="n b" style="left:6721px;top:423px;width:139px;height:53px">response to<br/>DNA damage stimulus<br/>(Mouse)</div>
<div class="n" style="left:6884px;top:426px;width:88px;height:48px">response to<br/>hormone stimulus</div>
<div class="n" style="left:6996px;top:426px;width:91px;height:48px">response to<br/>organic substance</div>
<div class="n" style="left:7160px;top:426px;width:73px;height:48px">response to<br/>extracellular<br/>stimulus</div>
<div class="n" style="left:7257px;top:426px;width:72px;height:48px">response to<br/>radiation</div>
<div class="n" style="left:6541px;top:547px;width:106px;height:48px">male sex differentiation</div>
<div class="n" style="left:6674px;top:547px;width:120px;height:48px">female sex differentiation</div>
<div class="n" style="left:6887px;top:547px;width:79px;height:48px">response to<br/>steroid hormone<br/>stimulus</div>
<div class="n" style="left:7006px;top:547px;width:72px;height:48px">response to<br/>organic cyclic<br/>substance</div>
<div class="n" style="left:7161px;top:547px;width:72px;height:48px">response to<br/>nutrient levels</div>
<div class="n" style="left:7257px;top:547px;width:72px;height:48px">response to<br/>light stimulus</div>
<div class="n" style="left:7358px;top:547px;width:83px;height:48px">response to<br/>ionizing radiation</div>
<div class="n g" style="left:6872px;top:671px;width:109px;height:52px">response to<br/>estrogen stimulus<br/>(Human, Rat)</div>
<div class="n r" style="left:7005px;top:671px;width:75px;height:52px">response to<br/>genistein<br/>(Human)</div>
<div class="n y" style="left:7128px;top:671px;width:75px;height:52px">response to<br/>nutrient<br/>(Rat)</div>
<div class="n" style="left:7251px;top:673px;width:71px;height:48px">response to<br/>UV</div>
<div class="n b" style="left:7346px;top:671px;width:107px;height:52px">response to<br/>gamma radiation<br/>(Mouse)</div>
<div class="n b" style="left:7476px;top:671px;width:76px;height:52px">response to<br/>X-ray<br/>(Mouse)</div>
<div class="n b" style="left:7249px;top:798px;width:75px;height:55px">response to<br/>UV-C<br/>(Mouse)</div>
</div>
</foreignObject>
</svg>
</body></html>
